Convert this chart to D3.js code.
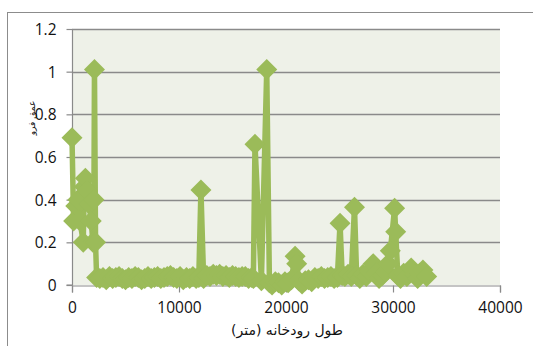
<!DOCTYPE html>
<html>
<head>
<meta charset="utf-8">
<script src="https://cdn.jsdelivr.net/npm/d3@7"></script>
<style>
  html, body { margin: 0; padding: 0; background: #fff; }
  svg { display: block; }
</style>
</head>
<body>
<script>
// ---- data (river length in metres, depth value) ----
const distances = [
  0, 150, 350, 550, 750, 1050, 1150, 1250, 1400, 1600, 1800, 1950, 2050, 2100, 2200, 2300,
  2600, 2900, 3200, 3500, 3800, 4100, 4400, 4700, 5000, 5300, 5600, 5900, 6200, 6500, 6800,
  7100, 7400, 7700, 8000, 8300, 8600, 8900, 9200, 9500, 9800, 10100, 10400, 10700, 11000,
  11300, 11600, 11850, 12050, 12300, 12600, 12900, 13200, 13500, 13800, 14100, 14400, 14700,
  15000, 15300, 15600, 15900, 16200, 16500, 16800, 16950, 17100, 17700, 18200, 18450,
  18700, 19000, 19300, 19600, 19900, 20200, 20500, 20850, 21000, 21200, 21500, 21800, 22100,
  22400, 22700, 23000, 23300, 23600, 23900, 24200, 24500, 24800, 25050, 25250, 25500, 25800,
  26100, 26400, 26600, 26900, 27200, 27500, 27800, 28150, 28400, 28700, 29000, 29300, 29550,
  29750, 30150, 30250, 30450, 30700, 31000, 31300, 31700, 32000, 32300, 32500, 32800, 33150
];
const depths = [
  0.69, 0.30, 0.37, 0.40, 0.30, 0.20, 0.46, 0.50, 0.44, 0.38, 0.30, 0.20, 0.40, 1.01, 0.20, 0.035,
  0.03, 0.035, 0.025, 0.04, 0.03, 0.035, 0.04, 0.03, 0.025, 0.035, 0.03, 0.04, 0.035, 0.025, 0.03,
  0.04, 0.03, 0.035, 0.04, 0.03, 0.035, 0.04, 0.045, 0.035, 0.03, 0.04, 0.025, 0.035, 0.03,
  0.04, 0.03, 0.035, 0.445, 0.03, 0.045, 0.04, 0.05, 0.045, 0.05, 0.04, 0.045, 0.035,
  0.045, 0.04, 0.035, 0.04, 0.04, 0.03, 0.035, 0.03, 0.66, 0.02, 1.01, 0.01,
  0.00, 0.015, 0.01, 0.00, 0.015, 0.01, 0.025, 0.135, 0.10, 0.02, 0.005, 0.02, 0.025,
  0.015, 0.035, 0.03, 0.04, 0.03, 0.035, 0.04, 0.03, 0.035, 0.29, 0.045, 0.04, 0.05,
  0.04, 0.365, 0.045, 0.03, 0.05, 0.04, 0.065, 0.10, 0.055, 0.03, 0.045, 0.065, 0.10,
  0.16, 0.36, 0.25, 0.045, 0.03, 0.055, 0.04, 0.08, 0.05, 0.03, 0.055, 0.07, 0.04
];
const xTicks = [0, 10000, 20000, 30000, 40000];
const yTicks = [0, 0.2, 0.4, 0.6, 0.8, 1, 1.2];
const xTitle = "طول رودخانه (متر)";
const yTitle = "عمق فرو";

const W = 533, H = 346;
const plot = { left: 72, right: 500, top: 29, bottom: 285 };
const green = "#9bbb59";

const svg = d3.select("body").append("svg").attr("width", W).attr("height", H);

// outer chart frame
svg.append("rect")
  .attr("x", 7.5).attr("y", 12.5)
  .attr("width", W + 20).attr("height", H + 20)
  .attr("fill", "#fff").attr("stroke", "#8c8c8c").attr("stroke-width", 1);

const x = d3.scaleLinear().domain([0, 40000]).range([plot.left, plot.right]);
const y = d3.scaleLinear().domain([0, 1.2]).range([plot.bottom, plot.top]);

// plot area background
svg.append("rect")
  .attr("x", plot.left).attr("y", plot.top)
  .attr("width", plot.right - plot.left).attr("height", plot.bottom - plot.top)
  .attr("fill", "#eef1e8");

// horizontal gridlines
svg.append("g").selectAll("line").data(yTicks.filter(d => d > 0)).join("line")
  .attr("x1", plot.left).attr("x2", plot.right)
  .attr("y1", d => Math.round(y(d)) + 0.5).attr("y2", d => Math.round(y(d)) + 0.5)
  .attr("stroke", "#8a8a8a").attr("stroke-width", 1.3);

// axes
const yAxis = d3.axisLeft(y).tickValues(yTicks).tickSize(6).tickPadding(10)
  .tickFormat(d => String(d));
const xAxis = d3.axisBottom(x).tickValues(xTicks).tickSize(7).tickPadding(9)
  .tickFormat(d => String(d));

const gy = svg.append("g").attr("transform", `translate(${plot.left + 0.5},0)`).call(yAxis);
const gx = svg.append("g").attr("transform", `translate(0,${plot.bottom + 0.5})`).call(xAxis);
[gx, gy].forEach(g => {
  g.select(".domain").attr("stroke", "#8a8a8a").attr("stroke-width", 1.2);
  g.selectAll(".tick line").attr("stroke", "#8a8a8a").attr("stroke-width", 1.2);
  g.selectAll(".tick text")
    .attr("fill", "#111")
    .attr("font-family", "'Open Sans', sans-serif")
    .attr("font-size", 15.5);
});
gy.select(".domain").attr("d", `M-6,${plot.bottom}H0V${plot.top}`);
gy.selectAll(".tick text").attr("dy", "0.36em");

// series line
const data = distances.map((d, i) => ({ d, v: depths[i] }));
svg.append("path")
  .datum(data)
  .attr("fill", "none")
  .attr("stroke", green)
  .attr("stroke-width", 5.5)
  .attr("stroke-linejoin", "round")
  .attr("d", d3.line().x(p => x(p.d)).y(p => y(p.v)));

// diamond markers
const s = 10.5;
svg.append("g").selectAll("path").data(data).join("path")
  .attr("transform", p => `translate(${x(p.d)},${y(p.v)})`)
  .attr("d", `M0,${-s}L${s},0L0,${s}L${-s},0Z`)
  .attr("fill", green);

// axis titles
svg.append("text")
  .attr("x", 287).attr("y", 335)
  .attr("text-anchor", "middle")
  .attr("font-family", "'DejaVu Sans', sans-serif")
  .attr("font-size", 14)
  .attr("fill", "#111")
  .attr("direction", "rtl")
  .text(xTitle);

svg.append("text")
  .attr("transform", "translate(35,118) rotate(-90)")
  .attr("text-anchor", "middle")
  .attr("font-family", "'DejaVu Sans', sans-serif")
  .attr("font-size", 9)
  .attr("fill", "#111")
  .text(yTitle);
</script>
</body>
</html>
